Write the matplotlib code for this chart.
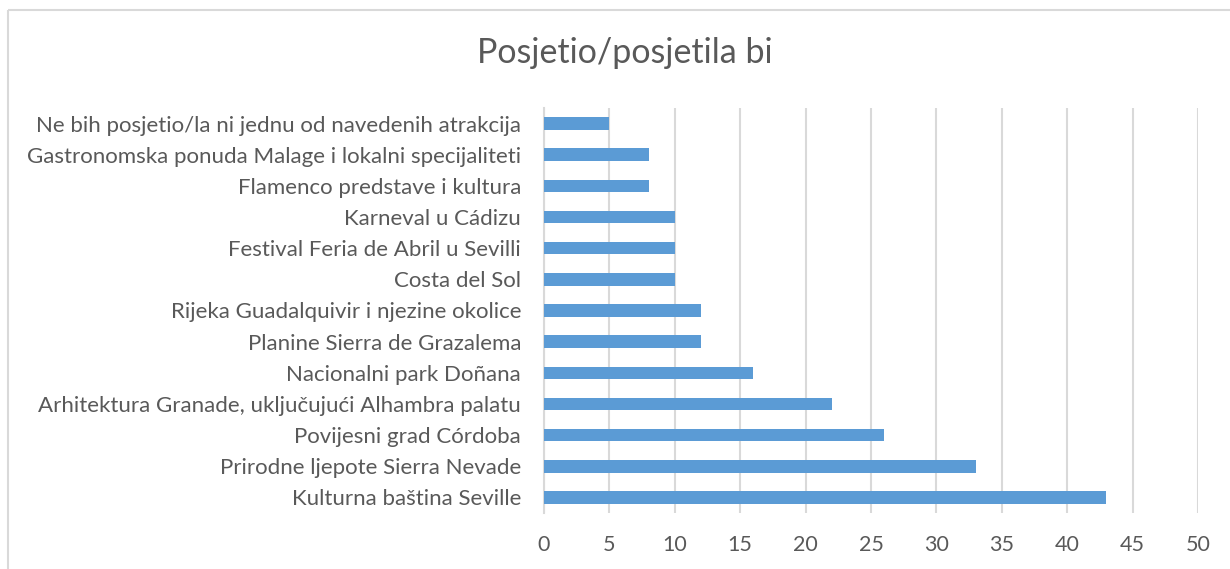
import matplotlib
matplotlib.use("Agg")
import matplotlib.pyplot as plt
from matplotlib.patches import Rectangle

categories = [
    "Ne bih posjetio/la ni jednu od navedenih atrakcija",
    "Gastronomska ponuda Malage i lokalni specijaliteti",
    "Flamenco predstave i kultura",
    "Karneval u Cádizu",
    "Festival Feria de Abril u Sevilli",
    "Costa del Sol",
    "Rijeka Guadalquivir i njezine okolice",
    "Planine Sierra de Grazalema",
    "Nacionalni park Doñana",
    "Arhitektura Granade, uključujući Alhambra palatu",
    "Povijesni grad Córdoba",
    "Prirodne ljepote Sierra Nevade",
    "Kulturna baština Seville",
]
values = [5, 8, 8, 10, 10, 10, 12, 12, 16, 22, 26, 33, 43]
xticks = [0, 5, 10, 15, 20, 25, 30, 35, 40, 45, 50]
title = "Posjetio/posjetila bi"

plt.rcParams['font.family'] = ['Lato', 'DejaVu Sans']
text_color = "#595959"
grid_color = "#d9d9d9"
bar_color = "#5B9BD5"

W, H = 1230, 569
fig = plt.figure(figsize=(W / 100, H / 100), dpi=100)

# chart border (extends beyond the right/bottom edges)
fig.patches.append(Rectangle((8 / W, 1 - 10 / H), 2, -2, transform=fig.transFigure,
                             fill=False, edgecolor="#d9d9d9", linewidth=1.5))

left, right, top, bottom = 544, 1198, 108, 513
ax = fig.add_axes([left / W, 1 - bottom / H, (right - left) / W, (bottom - top) / H])

y = list(range(len(categories)))[::-1]
ax.barh(y, values, height=0.4, color=bar_color, zorder=3)
ax.set_xlim(0, 50)
ax.set_ylim(-0.5, len(categories) - 0.5)
ax.set_xticks(xticks)
ax.set_xticklabels([str(t) for t in xticks])
ax.set_yticks(y)
ax.set_yticklabels(categories)
ax.tick_params(axis='both', length=0, colors=text_color)
ax.tick_params(axis='x', pad=16, labelsize=15.5)
ax.tick_params(axis='y', pad=16.5, labelsize=16)
ax.grid(axis='x', color=grid_color, linewidth=1.5, zorder=0)
for s in ['top', 'right', 'bottom']:
    ax.spines[s].set_visible(False)
ax.spines['left'].set_color(grid_color)
ax.spines['left'].set_linewidth(1.5)

fig.text(625 / W, 1 - 53 / H, title, ha='center', va='center', fontsize=24.5, color=text_color)

fig.savefig("out.png", dpi=100)
